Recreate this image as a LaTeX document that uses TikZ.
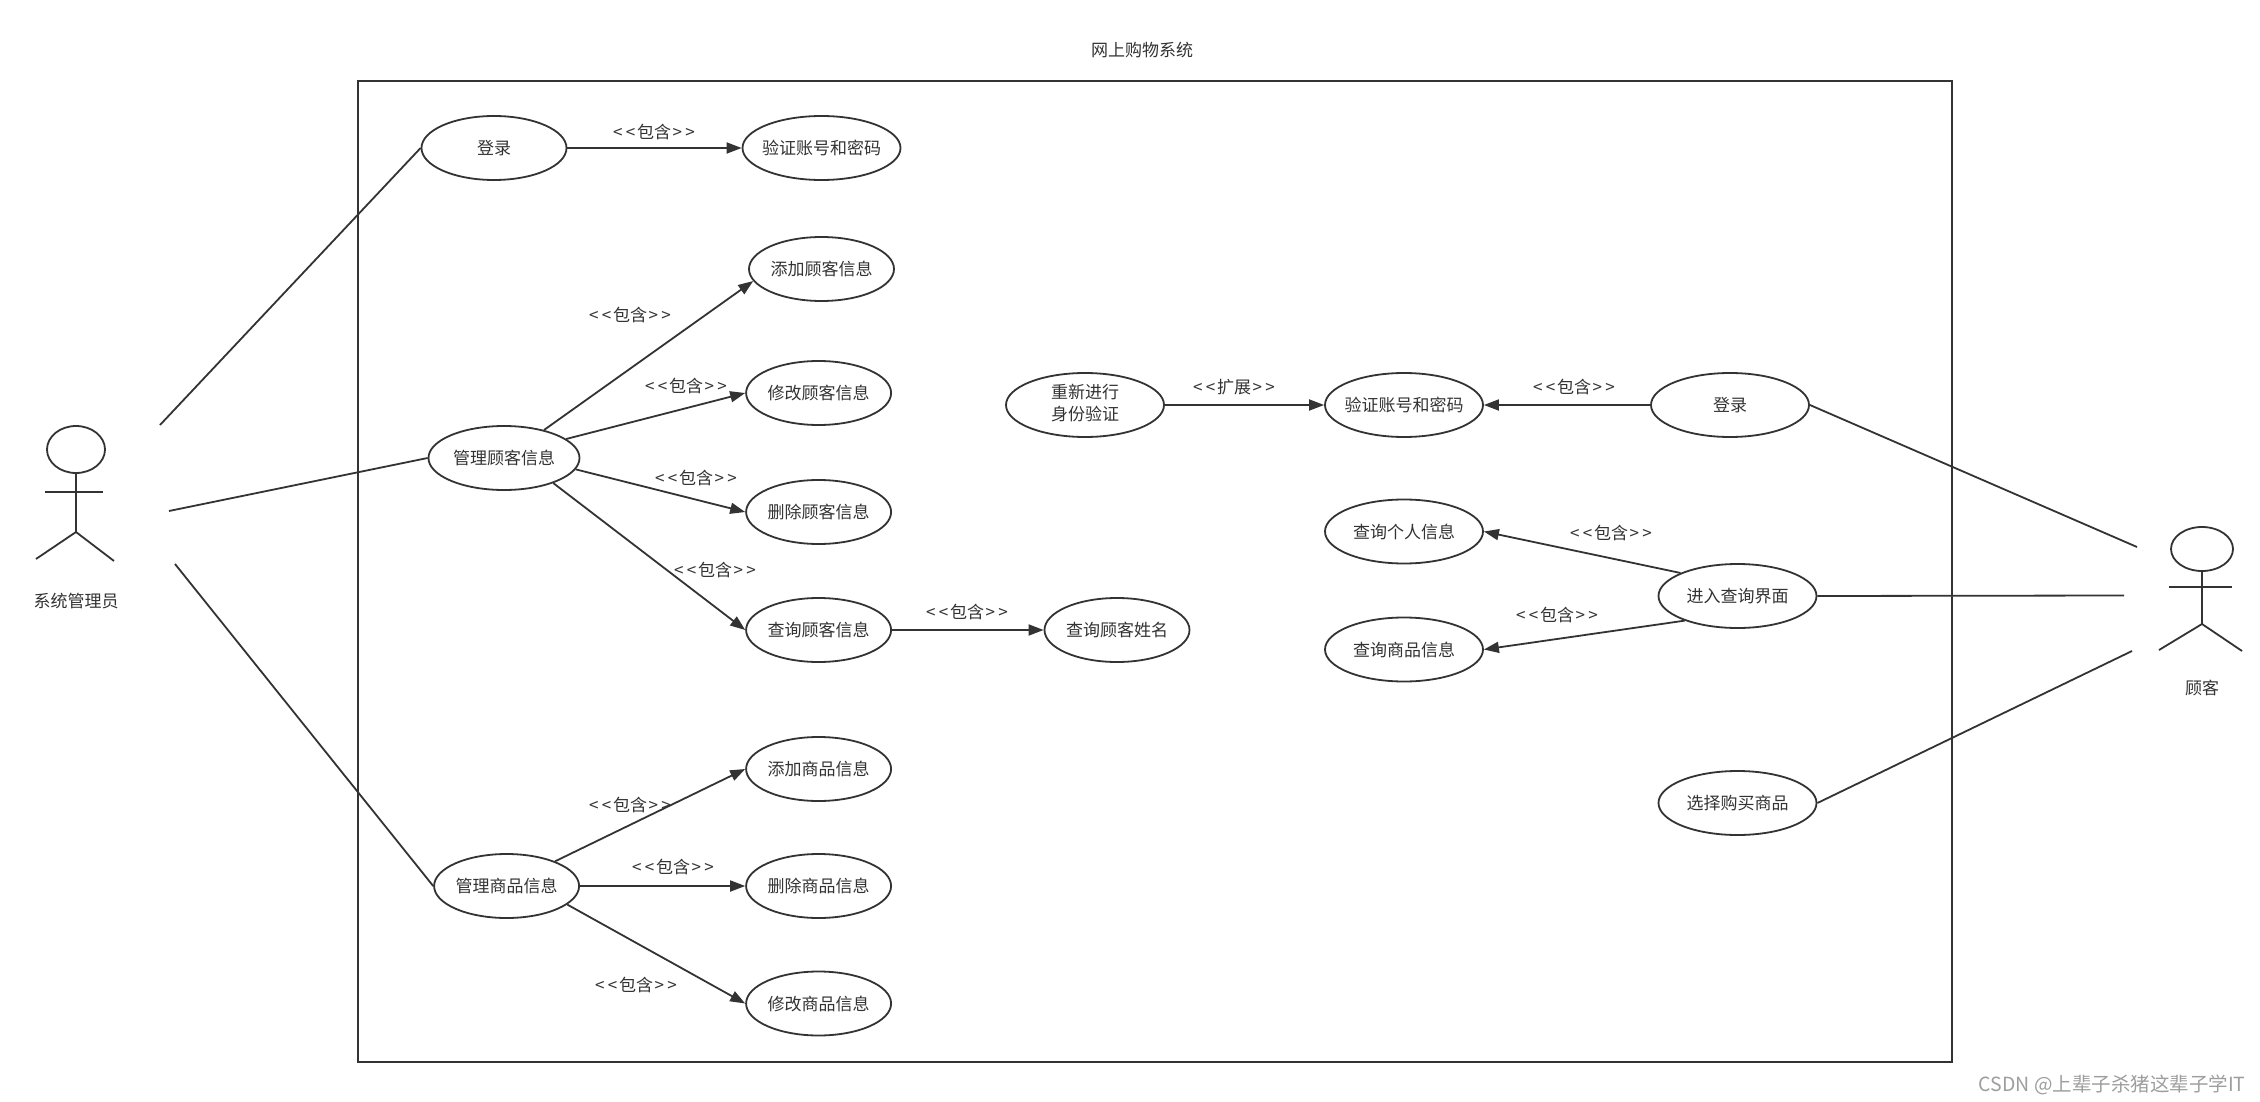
\documentclass[tikz,border=0pt]{standalone}
\usepackage{fontspec}
\setmainfont{Noto Sans CJK SC}
\usetikzlibrary{arrows.meta,shapes.geometric}
\definecolor{ink}{HTML}{333333}
\newcommand{\nz}[1]{\makebox[0pt][c]{#1}}
\newcommand{\angled}[1]{<\kern3.2pt<\kern1.7pt#1\kern1.7pt>\kern3.2pt>}
\tikzset{
  uc/.style={draw=ink,line width=1.8pt,ellipse,inner sep=0pt,minimum height=64pt,minimum width=#1,text=ink,font=\fontsize{17}{22}\selectfont},
  uc/.default=145pt,
  head/.style={draw=ink,line width=1.8pt,ellipse,inner sep=0pt},
  txt/.style={text=ink,inner sep=0pt,font=\fontsize{17}{22}\selectfont},
  lnk/.style={draw=ink,line width=1.8pt},
  arr/.style={lnk,-{Triangle[length=15pt,width=11pt]}},
}
\begin{document}
\begin{tikzpicture}[x=1pt,y=-1pt]
\useasboundingbox (0,0) rectangle (2260,1102);
\fill[white] (0,0) rectangle (2260,1102);
\begin{scope}[yshift=-1pt]
\node[txt] (title) at (1142,49) {网上购物系统};
\node[draw=ink,line width=1.8pt,inner sep=0pt,minimum width=1594pt,minimum height=981pt] (frame) at (1155,570.5) {};

% use cases
\node[uc] (login1) at (494,147) {\nz{登录}};
\node[uc=158pt] (verify1) at (821.5,147) {\nz{验证账号和密码}};
\node[uc] (addc) at (821.5,268) {\nz{添加顾客信息}};
\node[uc] (modc) at (818.6,392) {\nz{修改顾客信息}};
\node[uc] (delc) at (818.6,511) {\nz{删除顾客信息}};
\node[uc] (qryc) at (818.6,629) {\nz{查询顾客信息}};
\node[uc=151pt] (manc) at (504,457) {\nz{管理顾客信息}};
\node[uc] (qname) at (1117,629) {\nz{查询顾客姓名}};
\node[uc] (addp) at (818.6,768) {\nz{添加商品信息}};
\node[uc] (delp) at (818.6,885) {\nz{删除商品信息}};
\node[uc] (modp) at (818.6,1002.5) {\nz{修改商品信息}};
\node[uc] (manp) at (506.6,885) {\nz{管理商品信息}};
\node[uc=158pt] (reauth) at (1085,404) {\nz{\begin{tabular}{@{}c@{}}重新进行\\身份验证\end{tabular}}};
\node[uc=158pt] (verify2) at (1404,404) {\nz{验证账号和密码}};
\node[uc=158pt] (login2) at (1730,404) {\nz{登录}};
\node[uc=158pt] (qpers) at (1404,530.5) {\nz{查询个人信息}};
\node[uc=158pt] (qprod) at (1404,648.5) {\nz{查询商品信息}};
\node[uc=158pt] (enter) at (1737.5,595) {\nz{进入查询界面}};
\node[uc=158pt] (select) at (1737.5,802) {\nz{选择购买商品}};

% actors
\node[head,minimum width=58pt,minimum height=47pt] (ahead) at (76,448.5) {};
\coordinate (ahip) at (76,531);
\coordinate (aarmL) at (45,491);
\coordinate (aarmR) at (103,491);
\coordinate (alegL) at (36,558);
\coordinate (alegR) at (114,560);
\draw[lnk] (ahead.south) -- (ahip);
\draw[lnk] (aarmL) -- (aarmR);
\draw[lnk,line join=round] (alegL) -- (ahip) -- (alegR);
\node[txt] (aname) at (76,600) {系统管理员};

\node[head,minimum width=62pt,minimum height=44pt] (chead) at (2202,548) {};
\coordinate (chip) at (2202,623);
\coordinate (carmL) at (2169,586);
\coordinate (carmR) at (2232,586);
\coordinate (clegL) at (2159,649);
\coordinate (clegR) at (2242,650);
\draw[lnk] (chead.south) -- (chip);
\draw[lnk] (carmL) -- (carmR);
\draw[lnk,line join=round] (clegL) -- (chip) -- (clegR);
\node[txt] (cname) at (2202,687) {顾客};

% actor associations
\coordinate (a1) at (160,424);
\coordinate (a2) at (169,510);
\coordinate (a3) at (175,563);
\coordinate (c1) at (2137,546);
\coordinate (c2) at (2124,594.5);
\coordinate (c3) at (2132,650);
\draw[lnk] (a1) -- (login1.west);
\draw[lnk] (a2) -- (manc.west);
\draw[lnk] (a3) -- (manp.west);
\draw[lnk] (login2.east) -- (c1);
\draw[lnk] (enter.east) -- (c2);
\draw[lnk] (select.east) -- (c3);

% includes / extends
\draw[arr] (login1) -- (verify1);
\draw[arr] (manc.35) -- (addc.190);
\draw[arr] (manc.17) -- (modc.west);
\draw[arr] (manc.-9) -- (delc.west);
\draw[arr] (manc.-27) -- (qryc.west);
\draw[arr] (qryc) -- (qname);
\draw[arr] (manp.27) -- (addp.west);
\draw[arr] (manp) -- (delp);
\draw[arr] (manp.-17) -- (modp.west);
\draw[arr] (reauth) -- (verify2);
\draw[arr] (login2) -- (verify2);
\draw[arr] (enter.158) -- (qpers.east);
\draw[arr] (enter.205) -- (qprod.east);

% labels
\node[txt] (l1) at (654,131) {\angled{包含}};
\node[txt] (l2) at (630,314) {\angled{包含}};
\node[txt] (l3) at (686,385) {\angled{包含}};
\node[txt] (l4) at (696,477) {\angled{包含}};
\node[txt] (l5) at (715,569) {\angled{包含}};
\node[txt] (l6) at (967,611) {\angled{包含}};
\node[txt] (l7) at (630,804) {\angled{包含}};
\node[txt] (l8) at (673,866) {\angled{包含}};
\node[txt] (l9) at (636,984) {\angled{包含}};
\node[txt] (l10) at (1234,386) {\angled{扩展}};
\node[txt] (l11) at (1574,386) {\angled{包含}};
\node[txt] (l12) at (1611,532) {\angled{包含}};
\node[txt] (l13) at (1557,614) {\angled{包含}};

\node[inner sep=0pt,text=black!38,font=\fontsize{19.5}{24}\selectfont] (wm) at (2112,1084) {CSDN @上辈子杀猪这辈子学IT};
\end{scope}
\end{tikzpicture}
\end{document}
